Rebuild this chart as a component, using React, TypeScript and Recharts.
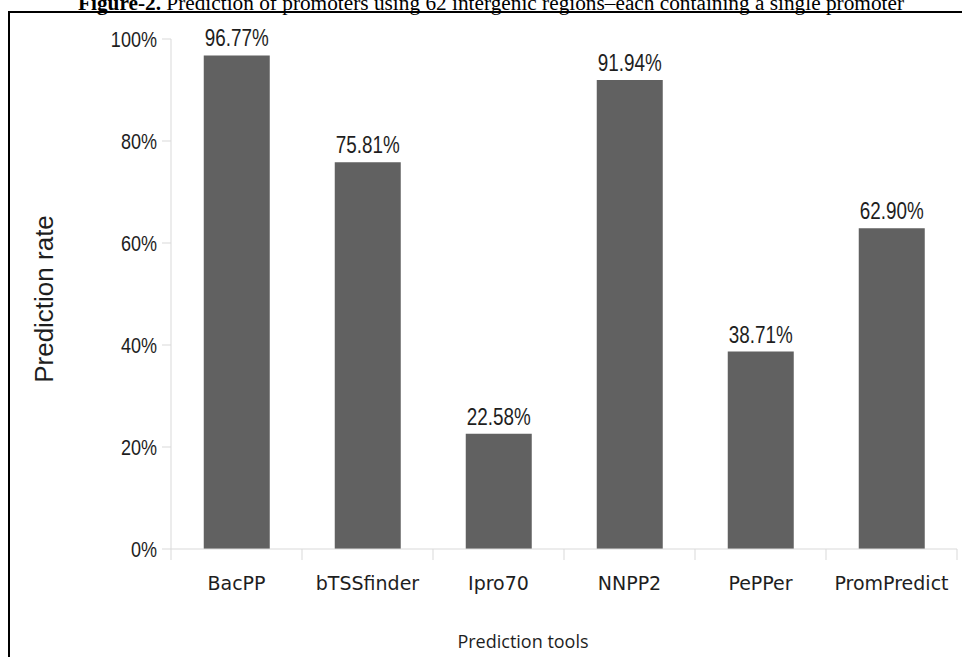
import React from "react";
import { BarChart, Bar, XAxis, YAxis, LabelList } from "recharts";

const tools = ["BacPP", "bTSSfinder", "Ipro70", "NNPP2", "PePPer", "PromPredict"];
const rates = [96.77, 75.81, 22.58, 91.94, 38.71, 62.9];
const yTicks = [0, 20, 40, 60, 80, 100];

const data = tools.map((tool, i) => ({ tool, rate: rates[i] }));

const W = 962;
const H = 657;
const AXIS_W = 171;
const RIGHT = 5;
const HALF_BAND = (W - AXIS_W - RIGHT) / tools.length / 2;

const GRID = "#d9d9d9";
const INK = "#1e1e1e";
const NARROW = "'Liberation Sans', Arial, sans-serif";

// no narrow face installed, so squeeze the regular one
const NarrowText = ({ x, y, anchor, size, dy, children }: any) => (
  <text
    transform={`translate(${x}, ${y}) scale(0.82, 1)`}
    textAnchor={anchor}
    dy={dy}
    fontFamily={NARROW}
    fontSize={size}
    fill={INK}
  >
    {children}
  </text>
);

const RateTick = (props: any) => {
  const { x, y, payload } = props;
  return (
    <NarrowText x={x} y={y} anchor="end" size={22} dy="0.36em">
      {`${payload.value}%`}
    </NarrowText>
  );
};

const ToolTick = (props: any) => {
  const { x, y, payload, index } = props;
  const last = index === tools.length - 1;
  return (
    <g>
      <line x1={x - HALF_BAND} y1={y} x2={x - HALF_BAND} y2={y + 11} stroke={GRID} />
      {last && <line x1={x + HALF_BAND} y1={y} x2={x + HALF_BAND} y2={y + 11} stroke={GRID} />}
      <text
        x={x}
        y={y + 41}
        textAnchor="middle"
        fontFamily="'DejaVu Sans', sans-serif"
        fontSize={19}
        fill={INK}
      >
        {payload.value}
      </text>
    </g>
  );
};

const RateLabel = (props: any) => {
  const { x, y, width, value } = props;
  return (
    <NarrowText x={x + width / 2} y={y - 9} anchor="middle" size={23}>
      {`${Number(value).toFixed(2)}%`}
    </NarrowText>
  );
};

export default function App() {
  return (
    <div style={{ position: "absolute", left: 0, top: 0, width: W, height: H, overflow: "hidden", background: "#fff" }}>
      <div
        style={{
          position: "absolute",
          left: 8,
          top: 11,
          width: W,
          height: H,
          borderTop: "2px solid #000",
          borderLeft: "2px solid #000",
        }}
      />
      <BarChart
        width={W}
        height={H}
        data={data}
        margin={{ top: 39, right: RIGHT, bottom: 78, left: 0 }}
        barCategoryGap="25%"
        style={{ position: "absolute", left: 0, top: 0 }}
      >
        <XAxis
          dataKey="tool"
          height={30}
          axisLine={{ stroke: GRID }}
          tickLine={false}
          tickSize={0}
          tickMargin={0}
          tick={<ToolTick />}
          interval={0}
        />
        <YAxis
          width={AXIS_W}
          domain={[0, 100]}
          ticks={yTicks}
          axisLine={{ stroke: GRID }}
          tickLine={{ stroke: GRID }}
          tickSize={9}
          tickMargin={5}
          tick={<RateTick />}
        />
        <Bar dataKey="rate" fill="#616161" isAnimationActive={false}>
          <LabelList dataKey="rate" content={<RateLabel />} />
        </Bar>
      </BarChart>
      <svg width={W} height={H} style={{ position: "absolute", left: 0, top: 0, pointerEvents: "none" }}>
        <text
          x={491}
          y={10}
          textAnchor="middle"
          fontFamily="'Liberation Serif', 'Times New Roman', serif"
          fontSize={21.3}
          fill="#000"
        >
          <tspan fontWeight="bold">Figure-2.</tspan>
          <tspan> Prediction of promoters using 62 intergenic regions–each containing a single promoter</tspan>
        </text>
        <text
          transform="translate(53, 299) rotate(-90)"
          textAnchor="middle"
          fontFamily="'Liberation Sans', Arial, sans-serif"
          fontSize={26}
          fill={INK}
        >
          Prediction rate
        </text>
        <text
          x={523}
          y={648}
          textAnchor="middle"
          fontFamily="'Open Sans', sans-serif"
          fontSize={18}
          fill={INK}
        >
          Prediction tools
        </text>
      </svg>
    </div>
  );
}
